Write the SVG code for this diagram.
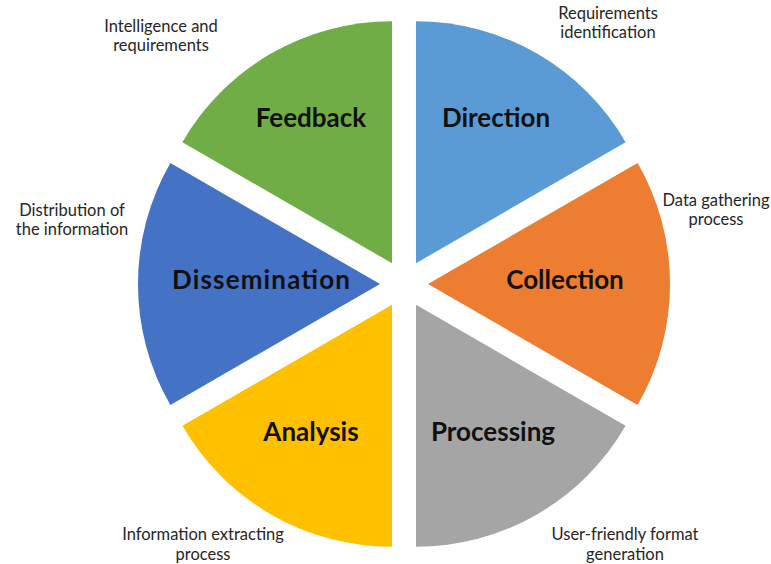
<svg xmlns="http://www.w3.org/2000/svg" width="771" height="564" viewBox="0 0 771 564">
  <style>
    .slice { stroke: none; }
    .name { font-family: Lato, "Open Sans", "Liberation Sans", sans-serif; font-weight: 700; font-size: 26px; fill: #111111; text-anchor: middle; }
    .note { font-family: Lato, "Open Sans", "Liberation Sans", sans-serif; font-size: 16.5px; fill: #262626; text-anchor: middle; }
  </style>
  <rect width="771" height="564" fill="#ffffff"/>

  <!-- Exploded six-part cycle: centre (404,284), radius 242, each wedge pushed 24px out along its bisector -->
  <g id="direction">
    <path class="slice" fill="#5B9BD5" d="M416,263.2 L416,21.2 A242,242 0 0,1 625.6,142.2 Z"/>
    <text class="name" x="496" y="127">Direction</text>
    <text class="note" x="608" y="19">Requirements</text>
    <text class="note" x="608" y="38">identification</text>
  </g>

  <g id="collection">
    <path class="slice" fill="#ED7D31" d="M428,284 L637.6,163 A242,242 0 0,1 637.6,405 Z"/>
    <text class="name" x="565" y="289">Collection</text>
    <text class="note" x="716" y="206">Data gathering</text>
    <text class="note" x="716" y="225">process</text>
  </g>

  <g id="processing">
    <path class="slice" fill="#A5A5A5" d="M416,304.8 L625.6,425.8 A242,242 0 0,1 416,546.8 Z"/>
    <text class="name" x="493" y="441">Processing</text>
    <text class="note" x="625" y="540">User-friendly format</text>
    <text class="note" x="625" y="560">generation</text>
  </g>

  <g id="analysis">
    <path class="slice" fill="#FFC000" d="M392,304.8 L392,546.8 A242,242 0 0,1 182.4,425.8 Z"/>
    <text class="name" x="311" y="441">Analysis</text>
    <text class="note" x="203" y="540">Information extracting</text>
    <text class="note" x="203" y="560">process</text>
  </g>

  <g id="dissemination">
    <path class="slice" fill="#4472C4" d="M380,284 L170.4,405 A242,242 0 0,1 170.4,163 Z"/>
    <text class="name" x="261" y="289" textLength="178" lengthAdjust="spacing">Dissemination</text>
    <text class="note" x="72" y="216">Distribution of</text>
    <text class="note" x="72" y="235">the information</text>
  </g>

  <g id="feedback">
    <path class="slice" fill="#70AD47" d="M392,263.2 L182.4,142.2 A242,242 0 0,1 392,21.2 Z"/>
    <text class="name" x="311" y="127">Feedback</text>
    <text class="note" x="161" y="32">Intelligence and</text>
    <text class="note" x="161" y="51">requirements</text>
  </g>

  <g id="connectors"/>
</svg>
